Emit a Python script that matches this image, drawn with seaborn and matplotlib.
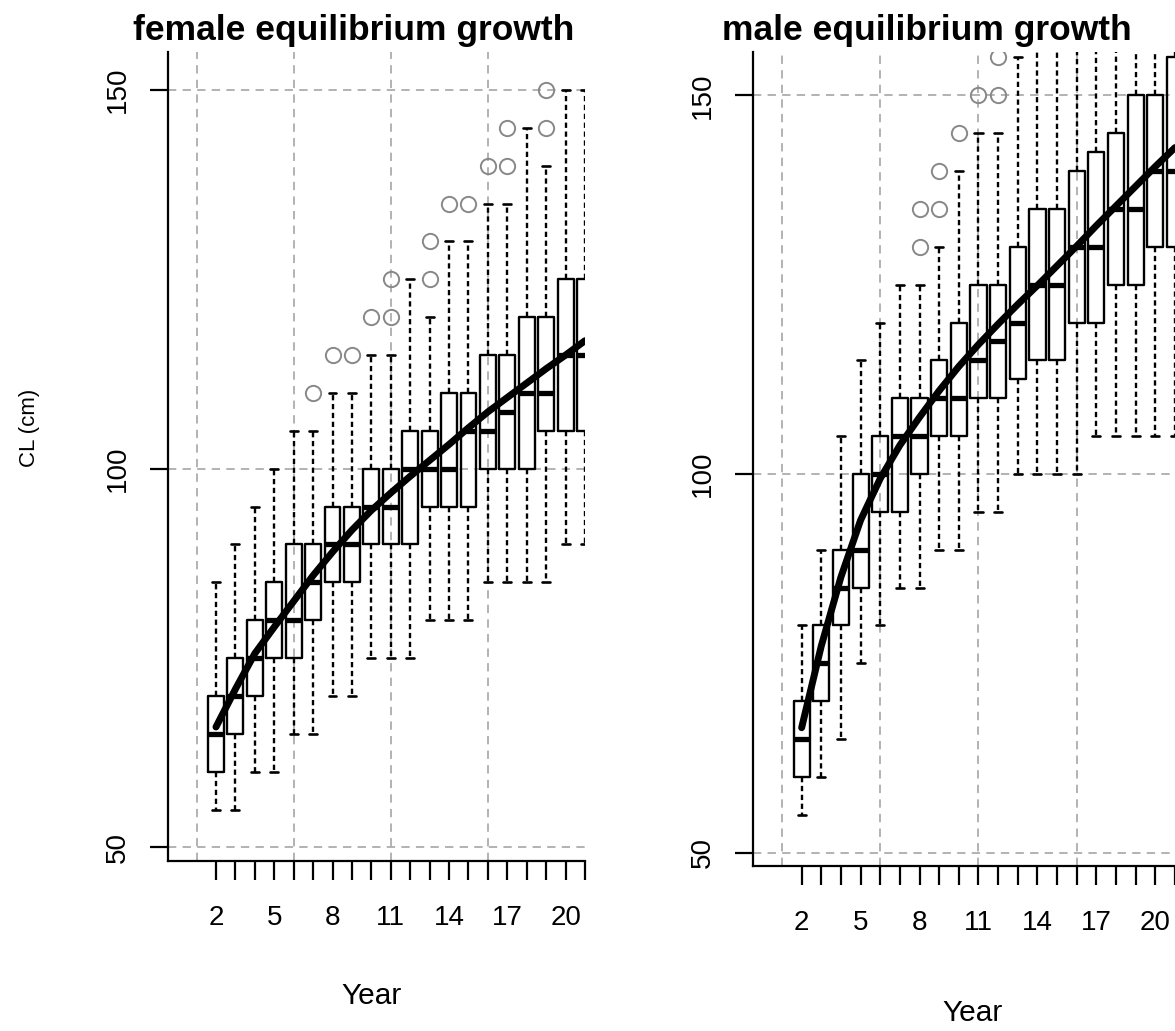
import numpy as np
import pandas as pd
import matplotlib
matplotlib.use("Agg")
import matplotlib.pyplot as plt
import seaborn as sns

# ---------------- data ----------------
years = list(range(2, 22))
tick_label_years = [2, 5, 8, 11, 14, 17, 20]
y_ticks = [50, 100, 150]
grid_years = [1, 6, 11, 16]
grid_cl = [50, 100, 150]

# female: box-plot summaries per year (2..21)
f_lo  = [55, 55, 60, 60, 65, 65, 70, 70, 75, 75, 75, 80, 80, 80, 85, 85, 85, 85, 90, 90]
f_q1  = [60, 65, 70, 75, 75, 80, 85, 85, 90, 90, 90, 95, 95, 95, 100, 100, 100, 105, 105, 105]
f_med = [65, 70, 75, 80, 80, 85, 90, 90, 95, 95, 100, 100, 100, 105, 105, 107.5, 110, 110, 115, 115]
f_q3  = [70, 75, 80, 85, 90, 90, 95, 95, 100, 100, 105, 105, 110, 110, 115, 115, 120, 120, 125, 125]
f_hi  = [85, 90, 95, 100, 105, 105, 110, 110, 115, 115, 125, 120, 130, 130, 135, 135, 145, 140, 150, 150]
f_out = [[], [], [], [], [], [110], [115], [115], [120], [120, 125], [], [125, 130],
         [135], [135], [140], [140, 145], [], [145, 150], [], []]
f_fit = [65.9, 70.9, 75.6, 79.1, 82.5, 85.9, 89.0, 91.9, 94.5, 96.8, 99.0, 101.1,
         103.2, 105.4, 107.5, 109.4, 111.3, 113.2, 115.0, 116.9]

# male: box-plot summaries per year (2..21)
m_lo  = [55, 60, 65, 75, 80, 85, 85, 90, 90, 95, 95, 100, 100, 100, 100, 105, 105, 105, 105, 105]
m_q1  = [60, 70, 80, 85, 95, 95, 100, 105, 105, 110, 110, 112.5, 115, 115, 120, 120, 125, 125, 130, 130]
m_med = [65, 75, 85, 90, 100, 105, 105, 110, 110, 115, 117.5, 120, 125, 125, 130, 130, 135, 135, 140, 140]
m_q3  = [70, 80, 90, 100, 105, 110, 110, 115, 120, 125, 125, 130, 135, 135, 140, 142.5, 145, 150, 150, 155]
m_hi  = [80, 90, 105, 115, 120, 125, 125, 130, 140, 145, 145, 155, 165, 165, 170, 175, 175, 185, 180, 190]
m_out = [[], [], [], [], [], [], [130, 135], [135, 140], [145], [150], [150, 155], [],
         [], [], [], [], [], [], [], []]
m_fit = [66.5, 77.3, 86.4, 93.9, 99.4, 103.8, 107.5, 111.0, 114.2, 117.1, 119.8, 122.4,
         124.9, 127.5, 130.1, 132.8, 135.4, 138.0, 140.6, 143.1]


def observations(lo, q1, med, q3, hi, out):
    """Rebuild a sample per year whose box-plot statistics equal the read values."""
    rows = []
    for yr, a, b, c, d, e, o in zip(years, lo, q1, med, q3, hi, out):
        vals = [a] + [b] * 10 + [c] * 10 + [d] * 10 + [e] + list(o)
        rows += [(yr, v) for v in vals]
    return pd.DataFrame(rows, columns=["Year", "CL"])


sns.set_style("white")
plt.rcParams["lines.scale_dashes"] = False
plt.rcParams["font.family"] = ["Liberation Sans", "DejaVu Sans"]
for key in ["text.color", "axes.labelcolor", "xtick.color", "ytick.color"]:
    plt.rcParams[key] = "black"

W, H = 1175, 1031
fig = plt.figure(figsize=(W / 100, H / 100), dpi=100)


def px_axes(left, right, top, bottom):
    return fig.add_axes([left / W, 1 - bottom / H, (right - left) / W, (bottom - top) / H])


ax_f = px_axes(168, 585, 51.7, 860.7)
ax_m = px_axes(753.3, 1175, 51.7, 866)

panels = [
    (ax_f, observations(f_lo, f_q1, f_med, f_q3, f_hi, f_out), f_fit, (-0.47, 20.68), (48.25, 155.05)),
    (ax_m, observations(m_lo, m_q1, m_med, m_q3, m_hi, m_out), m_fit, (-0.46, 20.96), (48.24, 155.76)),
]

grid_kw = dict(color="#a6a6a6", linewidth=1.2, linestyle=(0, (6, 4.5)), zorder=0)

for ax, df, fit, xl, yl in panels:
    for g in grid_years:
        ax.axvline(g, **grid_kw)
    for g in grid_cl:
        ax.axhline(g, **grid_kw)

    sns.boxplot(data=df, x="Year", y="CL", native_scale=True, width=0.82,
                fill=False, color="black", linewidth=1.7, whis=1.5, fliersize=11,
                whiskerprops=dict(linestyle=(0, (3.8, 2.6)), linewidth=1.7),
                capprops=dict(linewidth=1.9),
                medianprops=dict(linewidth=3.8),
                flierprops=dict(marker="o", markerfacecolor="none",
                                markeredgecolor="#888888", markeredgewidth=1.4),
                ax=ax)
    for ln in ax.lines:
        if ln.get_marker() == "o":
            ln.set_markeredgecolor("#888888")
            ln.set_markerfacecolor("none")
            ln.set_markersize(11)
            ln.set_markeredgewidth(1.4)

    sns.lineplot(x=years, y=fit, ax=ax, color="black", linewidth=5.0, zorder=6,
                 solid_capstyle="round", solid_joinstyle="round")

    ax.set_xlim(*xl)
    ax.set_ylim(*yl)
    ax.set_xlabel("")
    ax.set_ylabel("")
    ax.set_xticks(years)
    ax.set_xticklabels([str(y) if y in tick_label_years else "" for y in years])
    ax.set_yticks(y_ticks)
    ax.set_yticklabels([str(v) for v in y_ticks])
    for s in ["top", "right"]:
        ax.spines[s].set_visible(False)
    for s in ["left", "bottom"]:
        ax.spines[s].set_color("black")
        ax.spines[s].set_linewidth(1.6)
    ax.tick_params(axis="x", direction="out", length=13.5, width=1.6, color="black",
                   labelsize=20, pad=18.5, bottom=True, labelcolor="black")
    ax.tick_params(axis="y", direction="out", length=13, width=1.6, color="black",
                   labelsize=20, pad=14, left=True, labelrotation=90, labelcolor="black")
    for lab in ax.get_yticklabels():
        lab.set_verticalalignment("center")
    ax.set_facecolor("white")

fig.text(354 / W, 1 - 40 / H, "female equilibrium growth", ha="center", va="baseline",
         fontsize=25.5, fontweight="bold")
fig.text(927 / W, 1 - 40 / H, "male equilibrium growth", ha="center", va="baseline",
         fontsize=25.5, fontweight="bold")
fig.text(372 / W, 1 - 996 / H, "Year", ha="center", va="center", fontsize=21.5)
fig.text(973 / W, 1 - 1013 / H, "Year", ha="center", va="center", fontsize=21.5)
fig.text(30 / W, 1 - 428 / H, "CL (cm)", ha="center", va="center", fontsize=16, rotation=90)

fig.savefig("out.png", dpi=100, facecolor="white")
